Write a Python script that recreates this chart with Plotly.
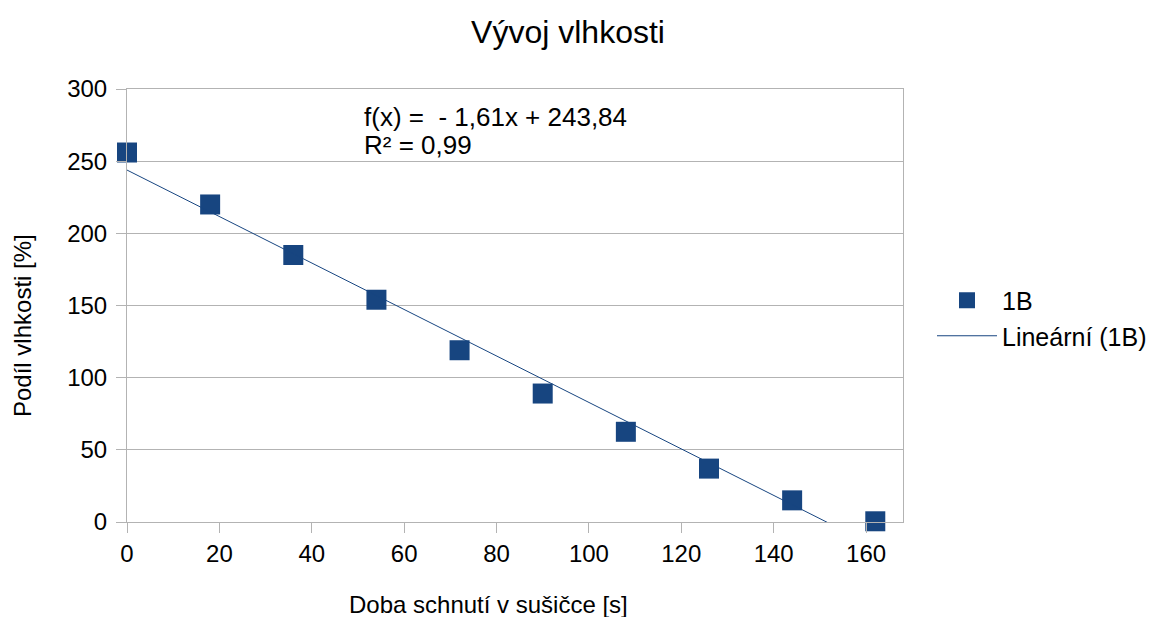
import numpy as np
import plotly.graph_objects as go

# data
doba = [0, 18, 36, 54, 72, 90, 108, 126, 144, 162]
vlhkost = [256, 220, 185, 154, 119, 89, 62.5, 37, 15, 0.5]
slope = -1.61
intercept = 243.84
x_ticks = [0, 20, 40, 60, 80, 100, 120, 140, 160]
y_ticks = [0, 50, 100, 150, 200, 250, 300]

COLOR = "#174580"
FONT = "Liberation Sans, Arial, sans-serif"

L, R, T, B = 127, 903, 89, 522
PW, PH = R - L, B - T

trend_x = np.array([0, 168])
trend_y = slope * trend_x + intercept

fig = go.Figure()
fig.add_trace(go.Scatter(
    x=doba, y=vlhkost, mode="markers", name="1B",
    marker=dict(symbol="square", size=20, color=COLOR),
    cliponaxis=False,
))
fig.add_trace(go.Scatter(
    x=trend_x, y=trend_y, mode="lines", name="Lineární (1B)",
    line=dict(color=COLOR, width=1),
))

fig.update_layout(
    width=1154, height=617,
    margin=dict(l=L, r=1154 - R, t=T, b=617 - B, autoexpand=False),
    paper_bgcolor="white", plot_bgcolor="white",
    font=dict(family=FONT, color="black", size=24),
    title=dict(text="Vývoj vlhkosti", x=568 / 1154, xref="container", xanchor="center",
               y=1 - 32 / 617, yref="container", yanchor="middle",
               font=dict(size=32, family=FONT)),
    showlegend=True,
    legend=dict(x=(932 - L) / PW, xanchor="left", y=(B - 318) / PH, yanchor="middle",
                font=dict(size=25), bgcolor="rgba(0,0,0,0)",
                itemwidth=60, tracegroupgap=0),
)
fig.update_xaxes(
    range=[0, 168], tickvals=x_ticks, ticks="outside", ticklen=10,
    tickcolor="#b3b3b3", showgrid=False, showline=True, linecolor="#b3b3b3",
    linewidth=1, mirror=True, zeroline=False, tickfont=dict(size=24),
)
fig.update_yaxes(
    range=[0, 300], tickvals=y_ticks, ticks="outside", ticklen=10,
    tickcolor="#b3b3b3", showgrid=True, gridcolor="#b3b3b3", gridwidth=1,
    showline=True, linecolor="#b3b3b3", linewidth=1, mirror=True,
    zeroline=False, tickfont=dict(size=24), ticklabelstandoff=4,
)

fig.add_annotation(
    text="f(x) =  - 1,61x + 243,84",
    xref="paper", yref="paper", x=(362 - L) / PW, y=(B - 117) / PH,
    xanchor="left", yanchor="middle", align="left", showarrow=False,
    font=dict(size=26, family=FONT),
)
fig.add_annotation(
    text="R² = 0,99",
    xref="paper", yref="paper", x=(362 - L) / PW, y=(B - 145) / PH,
    xanchor="left", yanchor="middle", align="left", showarrow=False,
    font=dict(size=26, family=FONT),
)
fig.add_annotation(
    text="Doba schnutí v sušičce [s]", xref="paper", yref="paper",
    x=(488 - L) / PW, y=(B - 604) / PH, xanchor="center", yanchor="middle",
    showarrow=False, font=dict(size=24, family=FONT),
)
fig.add_annotation(
    text="Podíl vlhkosti [%]", xref="paper", yref="paper",
    x=(22 - L) / PW, y=(B - 326) / PH, xanchor="center", yanchor="middle",
    textangle=-90, showarrow=False, font=dict(size=24, family=FONT),
)

fig.write_html("out.html")
